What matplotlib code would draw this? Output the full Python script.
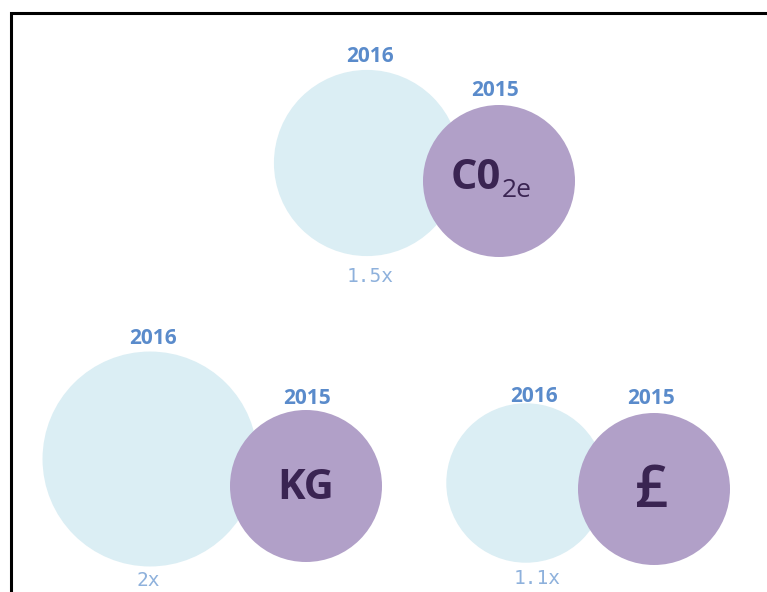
import matplotlib
matplotlib.use("Agg")
import matplotlib.pyplot as plt
from matplotlib.patches import Circle
import numpy as np

# ---- data ----
metrics = ["CO2e", "KG", "£"]
ratios = [1.5, 2.0, 1.1]          # 2016 relative to 2015
ratio_labels = ["1.5x", "2x", "1.1x"]
year_new = "2016"
year_old = "2015"

# ---- layout (pixels) ----
W, H = 767, 592
base_r = 76
old_centers = [(499, 181), (306, 486), (654, 489)]
new_centers = [(367, 163), (150, 459), (526, 483)]
new_label_pos = [(370, 57), (153, 339), (534, 396)]
old_label_pos = [(495, 90), (307, 398), (651, 398)]
mult_label_pos = [(370, 276), (148, 581), (537, 578)]

LIGHT = "#dbeef4"
PURPLE = "#b1a0c8"
DARK = "#3a2452"
YEAR = "#5a8bcb"
MULT = "#8eb1dc"
FONT = "Open Sans"

fig = plt.figure(figsize=(W / 100, H / 100), dpi=100)
ax = fig.add_axes([0, 0, 1, 1])
ax.set_xlim(0, W)
ax.set_ylim(H, 0)
ax.set_aspect("equal")
ax.axis("off")

# border (top and left lines)
ax.plot([10.5, 10.5, W + 5], [H + 5, 12.5, 12.5], color="black", lw=2.2,
        solid_joinstyle="miter")

for i, m in enumerate(metrics):
    rn = base_r * np.sqrt(ratios[i])
    (xn, yn), (xo, yo) = new_centers[i], old_centers[i]
    ax.add_patch(Circle((xn, yn), rn, color=LIGHT, lw=0, zorder=1))
    ax.add_patch(Circle((xo, yo), base_r, color=PURPLE, lw=0, zorder=2))
    ax.text(*new_label_pos[i], year_new, ha="center", va="center",
            fontsize=15, fontweight="bold", family=FONT, color=YEAR)
    ax.text(*old_label_pos[i], year_old, ha="center", va="center",
            fontsize=15, fontweight="bold", family=FONT, color=YEAR)
    ax.text(*mult_label_pos[i], ratio_labels[i], ha="center", va="center",
            fontsize=14, family="DejaVu Sans Mono", color=MULT)

# centre labels
x, y = old_centers[0]
ax.text(x + 2, y + 8, "C0", ha="right", va="baseline", fontsize=30,
        fontweight="bold", family=FONT, color=DARK)
ax.text(x + 3, y + 16, "2e", ha="left", va="baseline", fontsize=19,
        family=FONT, color=DARK)
x, y = old_centers[1]
ax.text(x, y + 13, "KG", ha="center", va="baseline", fontsize=30,
        fontweight="bold", family=FONT, color=DARK)
x, y = old_centers[2]
ax.text(x - 2, y + 18, "£", ha="center", va="baseline", fontsize=42,
        fontweight="semibold", family=FONT, color=DARK)

fig.savefig("out.png", dpi=100, facecolor="white")
